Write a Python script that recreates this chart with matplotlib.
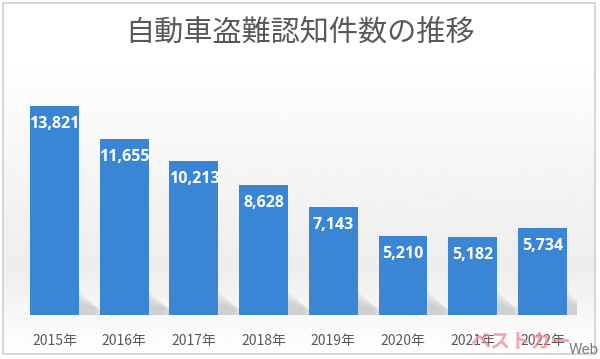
import matplotlib
matplotlib.use("Agg")
import matplotlib.pyplot as plt
import numpy as np
from matplotlib.patches import Rectangle, Polygon

plt.rcParams['font.family'] = ['Noto Sans CJK JP', 'DejaVu Sans']

years = ["2015年", "2016年", "2017年", "2018年", "2019年", "2020年", "2021年", "2022年"]
counts = [13821, 11655, 10213, 8628, 7143, 5210, 5182, 5734]
title = "自動車盗難認知件数の推移"

W, H = 600, 359
fig = plt.figure(figsize=(W / 100, H / 100), dpi=100)
fig.patch.set_facecolor("white")

# chart frame with soft gradient background
bg = fig.add_axes([3 / W, 1 - 354 / H, 592 / W, 351 / H])
bg.set_axis_off()
grad = np.linspace(0, 1, 256)
shade = 1.0 - 0.07 * np.clip((grad - 0.15) / 0.6, 0, 1) * np.clip((1.0 - grad) / 0.25, 0, 1)
img = shade[:, None] * np.ones((256, 2))
bg.imshow(img, cmap="gray", vmin=0, vmax=1, aspect="auto", extent=[0, 1, 0, 1], origin="upper")
bg.set_xlim(0, 1)
bg.set_ylim(0, 1)
bg.add_patch(Rectangle((0, 0), 1, 1, fill=False, edgecolor="#d0d0d0", lw=1.2, transform=bg.transAxes, clip_on=False))

ax = fig.add_axes([19.6 / W, 1 - 315 / H, 557.7 / W, 226.8 / H])
ax.set_facecolor("none")
x = np.arange(len(years))

# soft shadows at the bar bases
for xi in x:
    for k in range(6):
        poly = Polygon([[xi + 0.35, 0], [xi + 0.35, 1600 - k * 170], [xi + 0.58 + k * 0.03, 600 - k * 70], [xi + 0.58 + k * 0.03, 0]],
                       closed=True, facecolor="#6f6f6f", edgecolor="none", alpha=0.05, zorder=1)
        ax.add_patch(poly)

bars = ax.bar(x, counts, width=0.7, color="#3a86d4", zorder=2)
for xi, v in zip(x, counts):
    ax.annotate(f"{v:,}", xy=(xi, v), xytext=(0, -18), textcoords="offset pixels",
                ha="center", va="center", color="white", fontsize=11.5, fontweight="bold",
                family=["Open Sans", "DejaVu Sans"], zorder=3)

ax.set_xlim(-0.5, 7.5)
ax.set_ylim(0, 15000)
ax.set_xticks(x)
ax.set_xticklabels(years)
ax.tick_params(axis="x", length=0, pad=14, labelsize=10, labelcolor="#595959")
ax.set_yticks([])
for s in ax.spines.values():
    s.set_visible(False)

fig.text(300 / W, 1 - 34 / H, title, ha="center", va="center", fontsize=21, color="#595959")

# watermark
fig.text(521 / W, 1 - 341 / H, "ベストカー", ha="center", va="center", fontsize=14.5, fontweight="bold",
         color="#f08a90", alpha=0.75)
fig.text(584 / W, 1 - 350 / H, "Web", ha="center", va="center", fontsize=11, color="#7f7f7f",
         family=["Roboto", "DejaVu Sans"])

fig.savefig("out.png", dpi=100)
